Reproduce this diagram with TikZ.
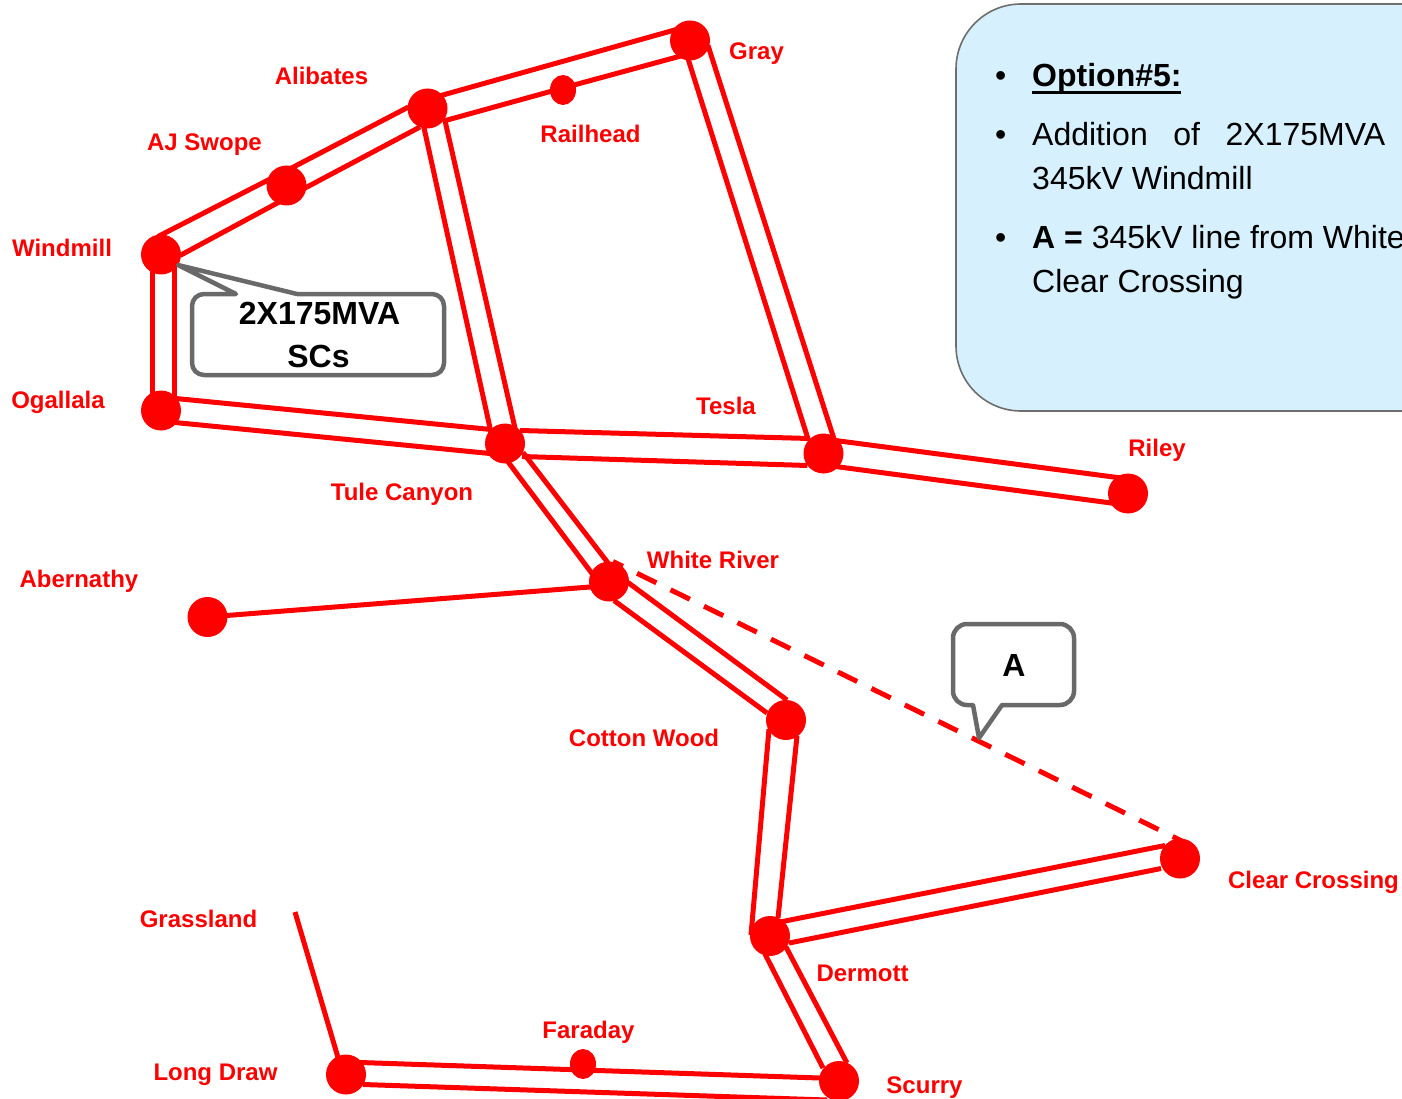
\documentclass[tikz,border=0pt]{standalone}
\usepackage{fontspec}
\setmainfont{Liberation Sans}
\usetikzlibrary{shapes.geometric,backgrounds}
\definecolor{panelblue}{HTML}{D6F0FD}
\definecolor{panelgray}{HTML}{6E6E6E}
\definecolor{callgray}{HTML}{696969}
\tikzset{
  bus/.style={circle,fill=red,draw=none,inner sep=0pt,minimum size=40pt},
  tap/.style={ellipse,fill=red,draw=none,inner sep=0pt,minimum width=26pt,minimum height=30pt},
  wire/.style={draw=red,line width=5pt},
  newline/.style={draw=red,line width=5pt,dash pattern=on 21.5pt off 15.8pt,dash phase=10.5pt},
  lbl/.style={anchor=base,inner sep=0pt,text=red,font=\fontsize{24}{28}\selectfont\bfseries},
  calltext/.style={anchor=base,inner sep=0pt,text=black,font=\fontsize{32}{36}\selectfont\bfseries},
  callout/.style={draw=callgray,line width=4.5pt,fill=white,line join=round},
  panel/.style={draw=panelgray,line width=1.6pt,fill=panelblue},
  paneltext/.style={anchor=base west,inner sep=0pt,text=black,font=\fontsize{32}{36}\selectfont},
}
\newcommand\wire[6]{\draw[wire] ([shift={(#2,#3)}]#1.center) -- ([shift={(#5,#6)}]#4.center);}
\begin{document}
\begin{tikzpicture}[x=1pt,y=-1pt]
\useasboundingbox (0,0) rectangle (1402,1099);
% buses
\node[bus] (gray) at (690,40.5) {};
\node[bus] (ali) at (427.5,108.5) {};
\node[tap] (rh) at (563,90) {};
\node[bus] (aj) at (286.5,185.5) {};
\node[bus] (wm) at (161,254.5) {};
\node[bus] (og) at (161,410.5) {};
\node[bus] (tule) at (505,443.5) {};
\node[bus] (tesla) at (823.5,453.5) {};
\node[bus] (riley) at (1128,493.5) {};
\node[bus] (wr) at (609,581.5) {};
\node[bus] (ab) at (207.5,617) {};
\node[bus] (cot) at (786,720) {};
\node[bus] (der) at (770,936) {};
\node[bus] (cc) at (1180,858.5) {};
\node[bus] (sc) at (839,1081) {};
\node[bus] (ld) at (346,1074.5) {};
\node[tap] (fd) at (583,1064) {};
\coordinate (grassEnd) at (295,912);
% lines
\begin{scope}[on background layer]
\wire{wm}{-9}{0}{og}{-9}{0}
\wire{wm}{13.5}{0}{og}{13.5}{0}
\wire{wm}{-3}{-18}{aj}{7}{-18.5}
\wire{aj}{7}{-18.5}{ali}{-19}{-1.5}
\wire{wm}{19}{1}{aj}{20.5}{1.5}
\wire{aj}{20.5}{1.5}{ali}{-7.5}{18.5}
\wire{ali}{10}{-12}{gray}{-10}{-12}
\wire{ali}{18}{12}{rh}{0}{-2}
\wire{rh}{0}{-2}{gray}{0}{13}
\wire{gray}{-3}{15}{tesla}{-15}{-13}
\wire{gray}{18}{5}{tesla}{11}{-13}
\wire{ali}{-4}{17}{tule}{-14}{-11}
\wire{ali}{17}{10}{tule}{11}{-11}
\wire{og}{15}{-12}{tule}{-14}{-14}
\wire{og}{14}{12}{tule}{-15}{10}
\wire{tule}{15}{-13}{tesla}{-14}{-15}
\wire{tule}{17}{13}{tesla}{-16}{12}
\wire{tesla}{12}{-13}{riley}{-3}{-15}
\wire{tesla}{12}{13}{riley}{-13}{10}
\wire{tule}{2}{17}{wr}{-14}{-4}
\wire{tule}{18}{9}{wr}{1}{-16}
\wire{wr}{19}{1}{cot}{1}{-20}
\wire{wr}{5}{19}{cot}{-19}{-7}
\wire{cot}{-17}{9}{der}{-19}{-1}
\wire{cot}{11}{16}{der}{8}{-18}
\wire{der}{10}{-14}{cc}{-15}{-13}
\wire{der}{19}{7}{cc}{-19}{10}
\wire{der}{-5}{18}{sc}{-16}{-13}
\wire{der}{16}{11}{sc}{8}{-18}
\wire{ld}{14}{-12}{fd}{0}{6}
\wire{fd}{0}{6}{sc}{-19}{-3}
\wire{ld}{17}{10}{sc}{-12}{19}
\draw[wire] (grassEnd) -- ([shift={(-8,-17)}]ld.center);
\wire{ab}{0}{0}{wr}{0}{4}
\draw[newline] ([shift={(4,-20)}]wr.center) -- ([shift={(13,-12)}]cc.center);
\end{scope}
% labels
\node[lbl] (lGray) at (756.5,60) {Gray};
\node[lbl] (lAli) at (321.5,85) {Alibates};
\node[lbl] (lRh) at (590.5,143) {Railhead};
\node[lbl] (lAj) at (204.5,151) {AJ Swope};
\node[lbl] (lWm) at (62,257) {Windmill};
\node[lbl] (lOg) at (58,408) {Ogallala};
\node[lbl] (lTesla) at (726,414) {Tesla};
\node[lbl] (lRiley) at (1157,456) {Riley};
\node[lbl] (lTule) at (402,500) {Tule Canyon};
\node[lbl] (lWr) at (713,568) {White River};
\node[lbl] (lAb) at (79,587) {Abernathy};
\node[lbl] (lCot) at (644,746) {Cotton Wood};
\node[lbl] (lGrass) at (198.5,927) {Grassland};
\node[lbl] (lCc) at (1313.5,888) {Clear Crossing};
\node[lbl] (lDer) at (862.5,981) {Dermott};
\node[lbl] (lFd) at (588.5,1038) {Faraday};
\node[lbl] (lLd) at (215.5,1080) {Long Draw};
\node[lbl] (lSc) at (924.5,1093) {Scurry};
% callouts
\draw[callout] [rounded corners=12pt] (192,340) -- (192,294) [sharp corners] -- (236,294) -- (178,265) -- (297,294) [rounded corners=12pt] -- (444,294) -- (444,375) -- (192,375) -- cycle;
\node[calltext] (cSc1) at (319.5,324) {2X175MVA};
\node[calltext] (cSc2) at (318.5,367) {SCs};
\draw[callout] [rounded corners=14pt] (953,660) -- (953,624) -- (1074,624) -- (1074,705) [sharp corners] -- (1002,705) -- (979,738) -- (973,705) [rounded corners=14pt] -- (953,705) -- cycle;
\node[calltext] (cA) at (1014,676) {A};
% panel
\draw[panel] [rounded corners=65pt] (1500,411) -- (956,411) -- (956,4) -- (1500,4);
\node[paneltext] (b1) at (995,87) {•};
\node[paneltext] (t1) at (1032,87) {\bfseries\rlap{\rule[-7pt]{149pt}{2.5pt}}Option\#5:};
\node[paneltext] (b2) at (995,146) {•};
\node[paneltext] (t2) at (1032,146) {\hbox to 353pt{Addition\hfil of\hfil 2X175MVA}};
\node[paneltext] (t3) at (1032,190) {345kV Windmill};
\node[paneltext] (b3) at (995,249) {•};
\node[paneltext] (t4) at (1032,249) {\textbf{A =} 345kV line from White};
\node[paneltext] (t5) at (1032,292) {Clear Crossing};
\end{tikzpicture}
\end{document}
